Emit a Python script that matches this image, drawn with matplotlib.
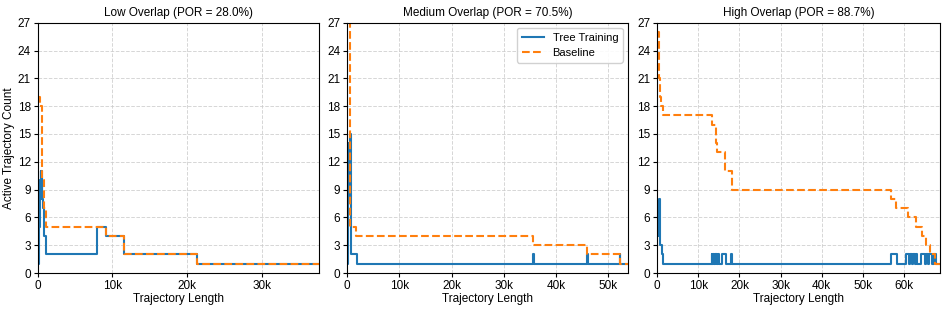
import numpy as np
import matplotlib
matplotlib.use("Agg")
import matplotlib.pyplot as plt
from matplotlib.ticker import FuncFormatter, MultipleLocator

plt.rcParams['font.family'] = ['Liberation Sans', 'DejaVu Sans']

####################### data (step breakpoints, steps-post)
titles = ["Low Overlap (POR = 28.0%)", "Medium Overlap (POR = 70.5%)", "High Overlap (POR = 88.7%)"]
x_max = [37700, 53900, 68800]

# low overlap
low_tree_x = [0, 150, 300, 380, 430, 480, 520, 560, 600, 700, 800, 1050, 7900, 9150, 11500, 21300, 37700]
low_tree_y = [1, 5, 10, 11, 8, 11, 9, 10, 8, 7, 4, 2, 5, 4, 2, 1, 1]
low_base_x = [0, 320, 620, 890, 1100, 9150, 11500, 21300, 37700]
low_base_y = [19, 18, 10, 7, 5, 4, 2, 1, 1]

# medium overlap
med_tree_x = [0, 100, 200, 300, 400, 500, 600, 650, 750, 1800, 35700, 35800, 46000, 46100, 52300, 52400, 53900]
med_tree_y = [1, 4, 8, 14, 13, 14, 15, 5, 2, 1, 2, 1, 2, 1, 2, 1, 1]
med_base_x = [0, 600, 1600, 35700, 46000, 52300, 53900]
med_base_y = [27, 5, 4, 3, 2, 1, 1]

# high overlap
high_tree_x = [0, 150, 300, 450, 600, 750, 1100, 1400, 13200, 13400, 13600, 13800, 14000, 14200, 14400,
               14600, 14800, 15100, 15700, 16700, 17900, 18300, 56800, 58300, 60600, 61200, 61500,
               62000, 62300, 62700, 63000, 63300, 64300, 65100, 65400, 65900, 66200, 66800, 67300,
               67800, 68800]
high_tree_y = [4, 7, 4, 8, 4, 3, 2, 1, 2, 1, 2, 1, 2, 1, 2,
               1, 2, 1, 2, 1, 2, 1, 2, 1, 2, 1, 2,
               1, 2, 1, 2, 1, 2, 1, 2, 1, 2, 1, 2,
               1, 1]
high_base_x = [0, 300, 500, 700, 1000, 1500, 13400, 14200, 14600, 15000, 16500, 18100, 57000, 58200,
               61100, 62900, 64400, 65300, 66300, 67600, 68800]
high_base_y = [26, 24, 21, 19, 18, 17, 16, 14, 13, 13, 11, 9, 8, 7, 6, 5, 4, 3, 2, 1, 1]

tree_data = [(low_tree_x, low_tree_y), (med_tree_x, med_tree_y), (high_tree_x, high_tree_y)]
base_data = [(low_base_x, low_base_y), (med_base_x, med_base_y), (high_base_x, high_base_y)]


def kfmt(v, pos):
    if v == 0:
        return "0"
    return "%dk" % int(round(v / 1000))


fig = plt.figure(figsize=(9.46, 3.09), dpi=100)
lefts = [0.0399, 0.3671, 0.6948]
widths = [0.2973, 0.2970, 0.2988]

for i in range(3):
    ax = fig.add_axes([lefts[i], 0.1165, widths[i], 0.81])
    tx, ty = tree_data[i]
    bx, by = base_data[i]
    ax.plot(tx, ty, drawstyle='steps-post', color='#1f77b4', lw=1.5, label='Tree Training')
    ax.plot(bx, by, drawstyle='steps-post', color='#ff7f0e', lw=1.5, ls='--', label='Baseline')
    ax.set_xlim(0, x_max[i])
    ax.set_ylim(0, 27)
    ax.yaxis.set_major_locator(MultipleLocator(3))
    ax.xaxis.set_major_locator(MultipleLocator(10000))
    ax.xaxis.set_major_formatter(FuncFormatter(kfmt))
    ax.grid(True, ls='--', color='#cccccc', lw=0.7, alpha=0.8)
    ax.tick_params(labelsize=8.5, length=3, pad=2)
    ax.set_title(titles[i], fontsize=8.5, pad=5)
    ax.set_xlabel("Trajectory Length", fontsize=8.5, labelpad=1)
    if i == 0:
        ax.set_ylabel("Active Trajectory Count", fontsize=8.5, labelpad=2)
    if i == 1:
        ax.legend(loc='upper right', fontsize=8, framealpha=0.9)

fig.savefig("out.png", dpi=100)
